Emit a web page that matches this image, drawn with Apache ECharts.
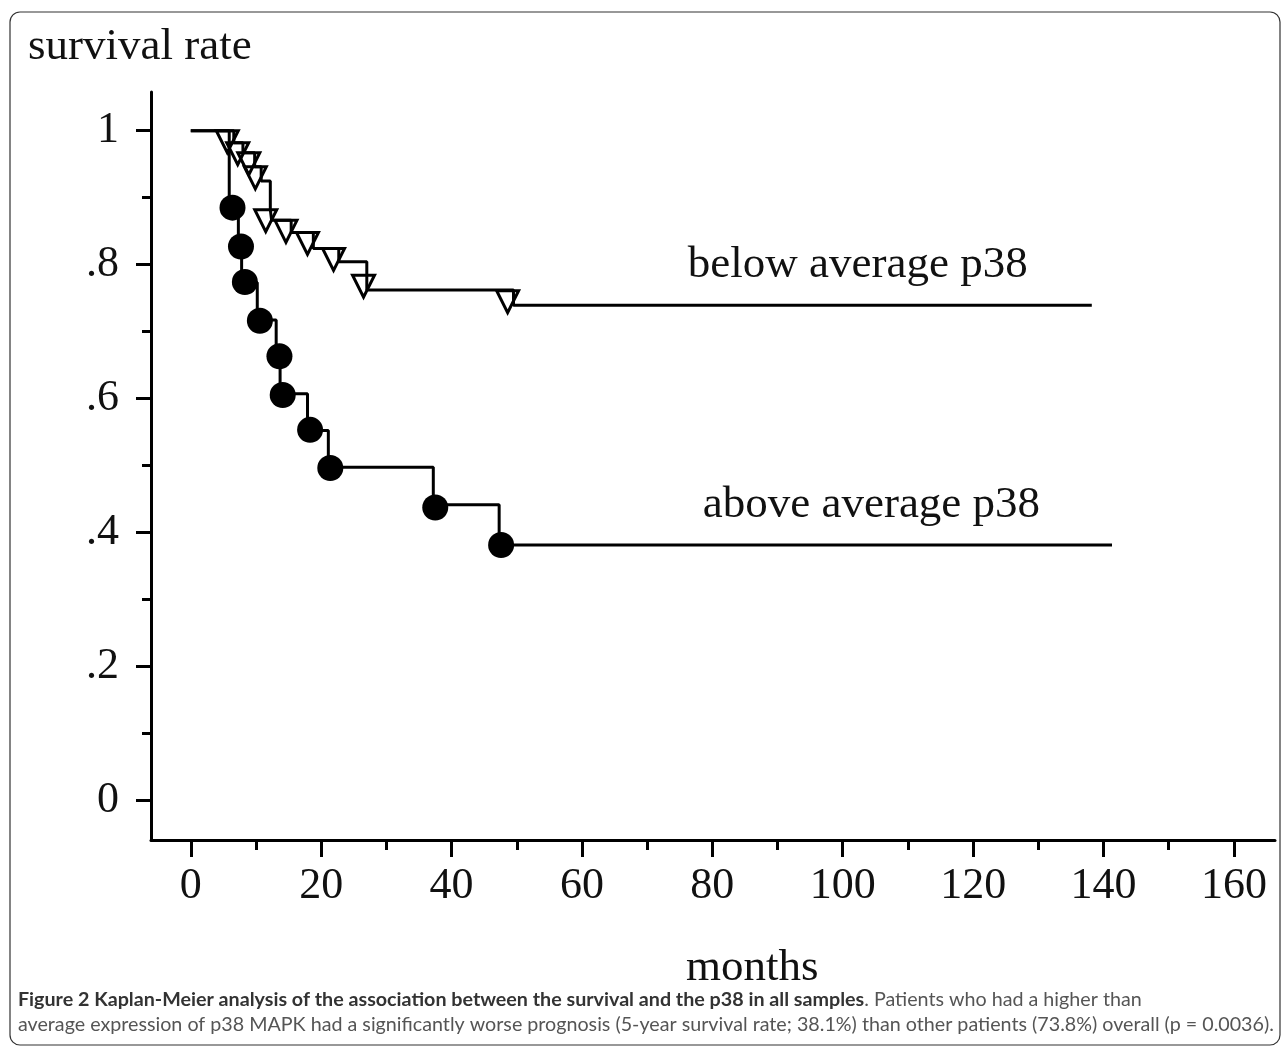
<!DOCTYPE html>
<html>
<head>
<meta charset="utf-8">
<script src="https://cdn.jsdelivr.net/npm/echarts/dist/echarts.min.js"></script>
<style>
  html, body { margin: 0; padding: 0; background: #fff; }
  #km { width: 1284px; height: 1050px; }
</style>
</head>
<body>
<div id="km"></div>
<script>
// step curves: time of each drop (months) and survival after it
var aboveTimes = [0, 5.9, 7.3, 7.8, 10.2, 13.1, 13.7, 17.9, 21.1, 37.2, 47.3, 141.3];
var aboveSurv = [1, 0.884, 0.827, 0.773, 0.717, 0.662, 0.607, 0.552, 0.497, 0.441, 0.381, 0.381];
var belowTimes = [0, 6.6, 8.0, 9.8, 10.8, 12.2, 12.4, 15.4, 18.8, 22.7, 27.0, 49.5, 138.2];
var belowSurv = [1, 0.982, 0.967, 0.946, 0.925, 0.882, 0.866, 0.848, 0.824, 0.804, 0.762, 0.739, 0.739];

// marks drawn on the curves
var aboveMarkTimes = [6.4, 7.7, 8.3, 10.6, 13.6, 14.1, 18.3, 21.4, 37.5, 47.6];
var aboveMarkSurv = [0.885, 0.827, 0.774, 0.716, 0.663, 0.605, 0.553, 0.496, 0.437, 0.381];
var belowMarkTimes = [5.6, 7.2, 8.9, 9.9, 11.5, 14.6, 17.9, 21.9, 26.5, 48.6];
var belowMarkSurv = [1, 0.982, 0.967, 0.946, 0.882, 0.866, 0.848, 0.824, 0.784, 0.761];

var xTicks = [0, 20, 40, 60, 80, 100, 120, 140, 160];
var xMinorTicks = [10, 30, 50, 70, 90, 110, 130, 150];
var yTicks = [0, 0.2, 0.4, 0.6, 0.8, 1];
var yMinorTicks = [0.1, 0.3, 0.5, 0.7, 0.9];

function pair(xs, ys) {
  return xs.map(function (x, i) { return [x, ys[i]]; });
}

var serif = 'Liberation Serif';
var sans = 'Lato';
var xMin = -6.1, xMax = 166.3;
var yMin = -0.0598, yMax = 1.0578;
var tri = 'path://M0,0 L20,0 L10,20 Z';

var myChart = echarts.init(document.getElementById('km'));
myChart.setOption({
  animation: false,
  backgroundColor: '#fff',
  title: [
    {
      text: 'survival rate',
      left: 28, top: 25, padding: 0,
      textStyle: { fontFamily: serif, fontSize: 45, fontWeight: 'normal', color: '#111' }
    },
    {
      text: 'months',
      left: 686, top: 946, padding: 0,
      textStyle: { fontFamily: serif, fontSize: 45, fontWeight: 'normal', color: '#111' }
    },
    {
      text: '{b|Figure 2 Kaplan-Meier analysis of the association between the survival and the p38 in all samples}' +
        '{r|. Patients who had a higher than}\n' +
        '{r|average expression of p38 MAPK had a significantly worse prognosis (5-year survival rate; 38.1%) than other patients (73.8%) overall (p = 0.0036).}',
      left: 18, top: 987, padding: 0,
      textStyle: {
        fontWeight: 'normal',
        rich: {
          b: { fontFamily: sans, fontSize: 19.7, fontWeight: 'bold', color: '#333', lineHeight: 25 },
          r: { fontFamily: sans, fontSize: 19.7, fontWeight: 'normal', color: '#555', lineHeight: 25 }
        }
      }
    }
  ],
  graphic: [
    {
      type: 'rect',
      shape: { x: 10, y: 12, width: 1270, height: 1033, r: 10 },
      style: { fill: 'none', stroke: '#333', lineWidth: 1.2 },
      z: 100
    }
  ],
  grid: { left: 151, top: 92, right: 9, bottom: 210 },
  xAxis: [
    {
      type: 'value', min: xMin, max: xMax,
      axisLine: { onZero: false, lineStyle: { color: '#000', width: 3 } },
      axisTick: { customValues: xTicks, length: 17, lineStyle: { color: '#000', width: 3 } },
      axisLabel: { customValues: xTicks, fontFamily: serif, fontSize: 44, color: '#111', margin: 24 },
      splitLine: { show: false }
    },
    {
      type: 'value', min: xMin, max: xMax, position: 'bottom',
      axisLine: { show: false, onZero: false },
      axisTick: { customValues: xMinorTicks, length: 10, lineStyle: { color: '#000', width: 3 } },
      axisLabel: { show: false },
      splitLine: { show: false }
    }
  ],
  yAxis: [
    {
      type: 'value', min: yMin, max: yMax,
      axisLine: { show: true, onZero: false, lineStyle: { color: '#000', width: 3 } },
      axisTick: { show: true, customValues: yTicks, length: 15, lineStyle: { color: '#000', width: 3 } },
      axisLabel: {
        customValues: yTicks, fontFamily: serif, fontSize: 44, color: '#111', margin: 32,
        formatter: function (v) { return v === 0 || v === 1 ? String(v) : String(v).replace(/^0/, ''); }
      },
      splitLine: { show: false }
    },
    {
      type: 'value', min: yMin, max: yMax, position: 'left',
      axisLine: { show: false, onZero: false },
      axisTick: { show: true, customValues: yMinorTicks, length: 9, lineStyle: { color: '#000', width: 3 } },
      axisLabel: { show: false },
      splitLine: { show: false }
    }
  ],
  series: [
    {
      name: 'above average p38',
      type: 'line', step: 'end', symbol: 'none',
      lineStyle: { color: '#000', width: 3 },
      data: pair(aboveTimes, aboveSurv),
      markPoint: {
        symbol: 'circle', symbolSize: 0,
        label: { show: true, formatter: 'above average p38', fontFamily: serif, fontSize: 45, color: '#111' },
        data: [{ coord: [104.4, 0.441] }]
      }
    },
    {
      name: 'above marks',
      type: 'scatter', symbol: 'circle', symbolSize: 26,
      itemStyle: { color: '#000', opacity: 1 },
      data: pair(aboveMarkTimes, aboveMarkSurv),
      z: 3
    },
    {
      name: 'below average p38',
      type: 'line', step: 'end', symbol: 'none',
      lineStyle: { color: '#000', width: 3 },
      data: pair(belowTimes, belowSurv),
      markPoint: {
        symbol: 'circle', symbolSize: 0,
        label: { show: true, formatter: 'below average p38', fontFamily: serif, fontSize: 45, color: '#111' },
        data: [{ coord: [102.3, 0.799] }]
      }
    },
    {
      name: 'below marks',
      type: 'scatter', symbol: tri, symbolSize: 22, symbolOffset: [0, 11],
      itemStyle: { color: 'rgba(255,255,255,0)', borderColor: '#000', borderWidth: 3, opacity: 1 },
      data: pair(belowMarkTimes, belowMarkSurv),
      z: 3
    }
  ]
});
</script>
</body>
</html>
